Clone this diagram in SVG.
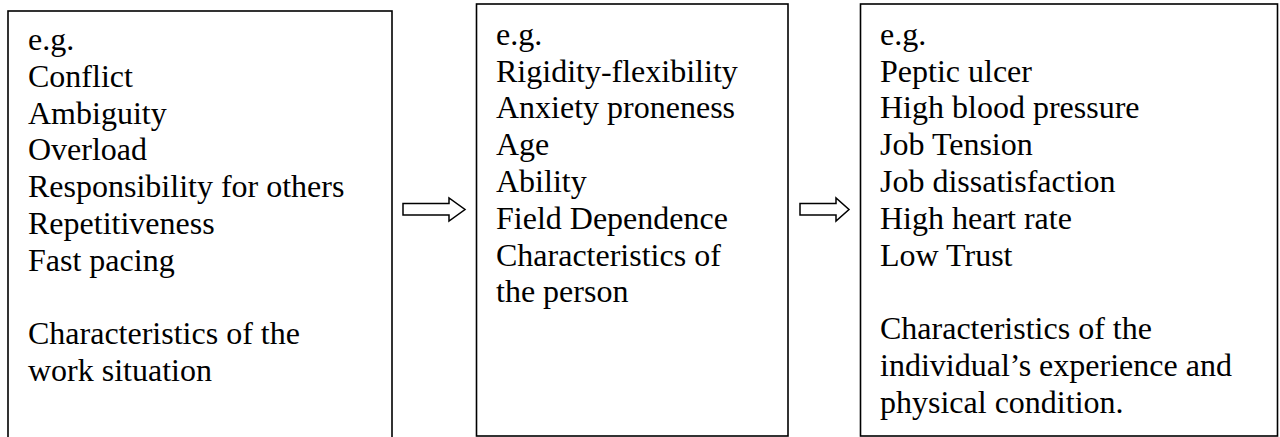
<svg xmlns="http://www.w3.org/2000/svg" width="1280" height="437" viewBox="0 0 1280 437">
<style>
.box{fill:#fff;stroke:#000;stroke-width:1.6}
.t{font-family:"Liberation Serif","Times New Roman",serif;font-size:32px;fill:#000}
.arr{fill:#fff;stroke:#000;stroke-width:1.5;stroke-linejoin:miter}
</style>
<rect width="1280" height="437" fill="#fff"/>
<g id="node-work">
<rect class="box" x="8" y="11" width="384" height="440"/>
<text class="t" x="28" y="50">
<tspan x="28" y="50">e.g.</tspan>
<tspan x="28" y="86.8">Conflict</tspan>
<tspan x="28" y="123.6">Ambiguity</tspan>
<tspan x="28" y="160.4">Overload</tspan>
<tspan x="28" y="197.2">Responsibility for others</tspan>
<tspan x="28" y="234">Repetitiveness</tspan>
<tspan x="28" y="270.8">Fast pacing</tspan>
<tspan x="28" y="344.4">Characteristics of the</tspan>
<tspan x="28" y="381.2">work situation</tspan>
</text>
</g>
<g id="node-person">
<rect class="box" x="476.5" y="4" width="311.5" height="432"/>
<text class="t">
<tspan x="496" y="44.7">e.g.</tspan>
<tspan x="496" y="81.5">Rigidity-flexibility</tspan>
<tspan x="496" y="118.3">Anxiety proneness</tspan>
<tspan x="496" y="155.1">Age</tspan>
<tspan x="496" y="191.9">Ability</tspan>
<tspan x="496" y="228.7">Field Dependence</tspan>
<tspan x="496" y="265.5">Characteristics of</tspan>
<tspan x="496" y="302.3">the person</tspan>
</text>
</g>
<g id="node-outcome">
<rect class="box" x="860.5" y="4" width="417" height="432"/>
<text class="t">
<tspan x="880" y="44.7">e.g.</tspan>
<tspan x="880" y="81.5">Peptic ulcer</tspan>
<tspan x="880" y="118.3">High blood pressure</tspan>
<tspan x="880" y="155.1">Job Tension</tspan>
<tspan x="880" y="191.9">Job dissatisfaction</tspan>
<tspan x="880" y="228.7">High heart rate</tspan>
<tspan x="880" y="265.5">Low Trust</tspan>
<tspan x="880" y="339.1">Characteristics of the</tspan>
<tspan x="880" y="375.9">individual’s experience and</tspan>
<tspan x="880" y="412.7">physical condition.</tspan>
</text>
</g>
<g id="connectors">
<polygon class="arr" points="403,203.5 449,203.5 449,198 465,209.5 449,221 449,215 403,215"/>
<polygon class="arr" points="800,203.5 836,203.5 836,198 849,209.5 836,221 836,215 800,215"/>
</g>
</svg>
